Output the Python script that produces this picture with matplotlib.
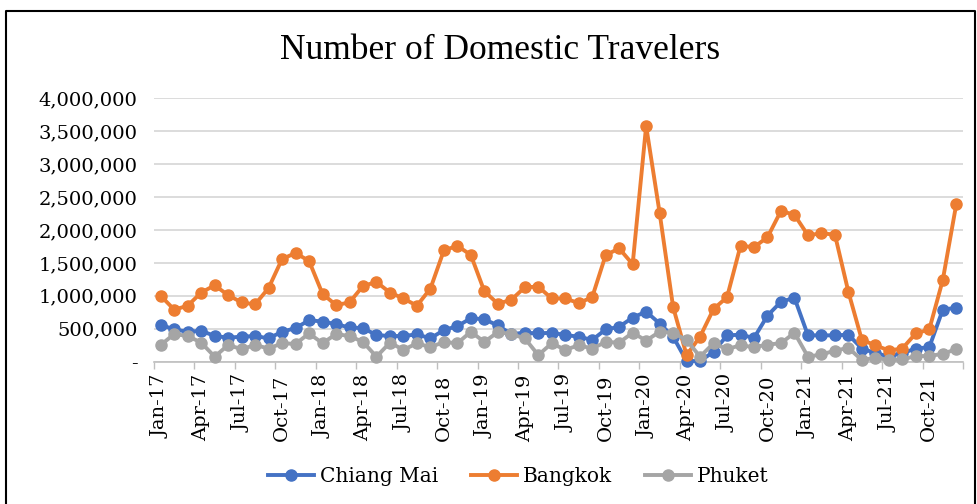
import matplotlib
matplotlib.use("Agg")
import matplotlib.pyplot as plt
from matplotlib.ticker import FuncFormatter, FixedLocator
from matplotlib.lines import Line2D

# monthly labels Jan-17 .. Dec-21
months = ["Jan", "Feb", "Mar", "Apr", "May", "Jun",
          "Jul", "Aug", "Sep", "Oct", "Nov", "Dec"]
years = ["17", "18", "19", "20", "21"]
labels = [m + "-" + y for y in years for m in months]

# travelers, millions
chiang_mai = [0.56, 0.49, 0.455, 0.47, 0.39, 0.365, 0.38, 0.39, 0.355, 0.455, 0.51, 0.63,
              0.61, 0.57, 0.52, 0.51, 0.405, 0.39, 0.39, 0.415, 0.355, 0.48, 0.54, 0.66,
              0.645, 0.55, 0.42, 0.44, 0.43, 0.44, 0.405, 0.38, 0.33, 0.49, 0.53, 0.67,
              0.76, 0.58, 0.38, 0.01, 0.01, 0.15, 0.40, 0.41, 0.36, 0.70, 0.91, 0.97,
              0.40, 0.40, 0.40, 0.41, 0.20, 0.13, 0.08, 0.13, 0.20, 0.22, 0.79, 0.82]
bangkok = [1.00, 0.79, 0.85, 1.05, 1.16, 1.01, 0.90, 0.87, 1.12, 1.56, 1.65, 1.53,
           1.03, 0.86, 0.90, 1.15, 1.21, 1.05, 0.96, 0.85, 1.11, 1.69, 1.76, 1.62,
           1.07, 0.88, 0.94, 1.13, 1.14, 0.96, 0.96, 0.89, 0.98, 1.62, 1.72, 1.48,
           3.58, 2.26, 0.83, 0.10, 0.38, 0.80, 0.98, 1.76, 1.74, 1.89, 2.29, 2.23,
           1.92, 1.95, 1.93, 1.06, 0.33, 0.25, 0.17, 0.20, 0.43, 0.49, 1.24, 2.39]
phuket = [0.254, 0.42, 0.39, 0.29, 0.076, 0.254, 0.19, 0.254, 0.20, 0.28, 0.27, 0.43,
          0.28, 0.42, 0.39, 0.30, 0.076, 0.29, 0.18, 0.28, 0.22, 0.30, 0.28, 0.455,
          0.30, 0.45, 0.42, 0.355, 0.10, 0.28, 0.18, 0.25, 0.20, 0.30, 0.29, 0.44,
          0.32, 0.455, 0.44, 0.33, 0.076, 0.28, 0.19, 0.25, 0.22, 0.26, 0.28, 0.44,
          0.076, 0.11, 0.167, 0.21, 0.025, 0.06, 0.025, 0.035, 0.086, 0.086, 0.12, 0.19]

series = [("Chiang Mai", chiang_mai, "#4472C4"),
          ("Bangkok", bangkok, "#ED7D31"),
          ("Phuket", phuket, "#A5A5A5")]

plt.rcParams["font.family"] = ["DejaVu Serif"]

fig = plt.figure(figsize=(9.78, 5.04), dpi=100)
ax = fig.add_axes([154 / 978, 1 - 361.7 / 504, (963 - 154) / 978, (361.7 - 98.3) / 504])

x = list(range(len(labels)))
for i, (name, vals, col) in enumerate(series):
    ax.plot(x, [v * 1e6 for v in vals], color=col, lw=2.8, marker="o",
            markersize=8, label=name, zorder=3 + i, clip_on=False)

ax.set_xlim(-0.5, len(labels) - 0.5)
ax.set_ylim(0, 4e6)
ax.set_yticks([i * 500000 for i in range(9)])
ax.yaxis.set_major_formatter(FuncFormatter(lambda v, p: "-" if v == 0 else f"{int(v):,}"))
ax.grid(axis="y", color="#D9D9D9", lw=1.3)
ax.set_axisbelow(True)

# labels every quarter, tick marks on category boundaries
ax.xaxis.set_major_locator(FixedLocator(x[::3]))
ax.set_xticklabels(labels[::3], rotation=90)
ax.xaxis.set_minor_locator(FixedLocator([v - 0.5 for v in x[::3]] + [len(labels) - 0.5]))
ax.tick_params(axis="x", which="major", length=0, pad=9, labelsize=14)
ax.tick_params(axis="x", which="minor", length=5, color="#BFBFBF", width=1)
ax.tick_params(axis="y", length=0, pad=12, labelsize=14)

for s in ["top", "right", "left"]:
    ax.spines[s].set_visible(False)
ax.spines["bottom"].set_color("#BFBFBF")
ax.spines["bottom"].set_linewidth(1.2)

fig.text(0.511, 0.9, "Number of Domestic Travelers", ha="center", va="center",
         fontsize=25.5, family="Liberation Serif")

handles = [Line2D([], [], color=c, lw=2.8, marker="o", markersize=8) for _, _, c in series]
fig.legend(handles, [n for n, _, _ in series], loc="center", bbox_to_anchor=(0.53, 0.055),
           ncol=3, frameon=False, fontsize=14.5, handlelength=2.3, columnspacing=1.6,
           handletextpad=0.3)

# chart frame
fig.add_artist(Line2D([6 / 978, 6 / 978, 975 / 978, 975 / 978], [0, 1 - 11 / 504, 1 - 11 / 504, 0],
                      transform=fig.transFigure, color="black", lw=1.5))

fig.savefig("out.png", dpi=100)
